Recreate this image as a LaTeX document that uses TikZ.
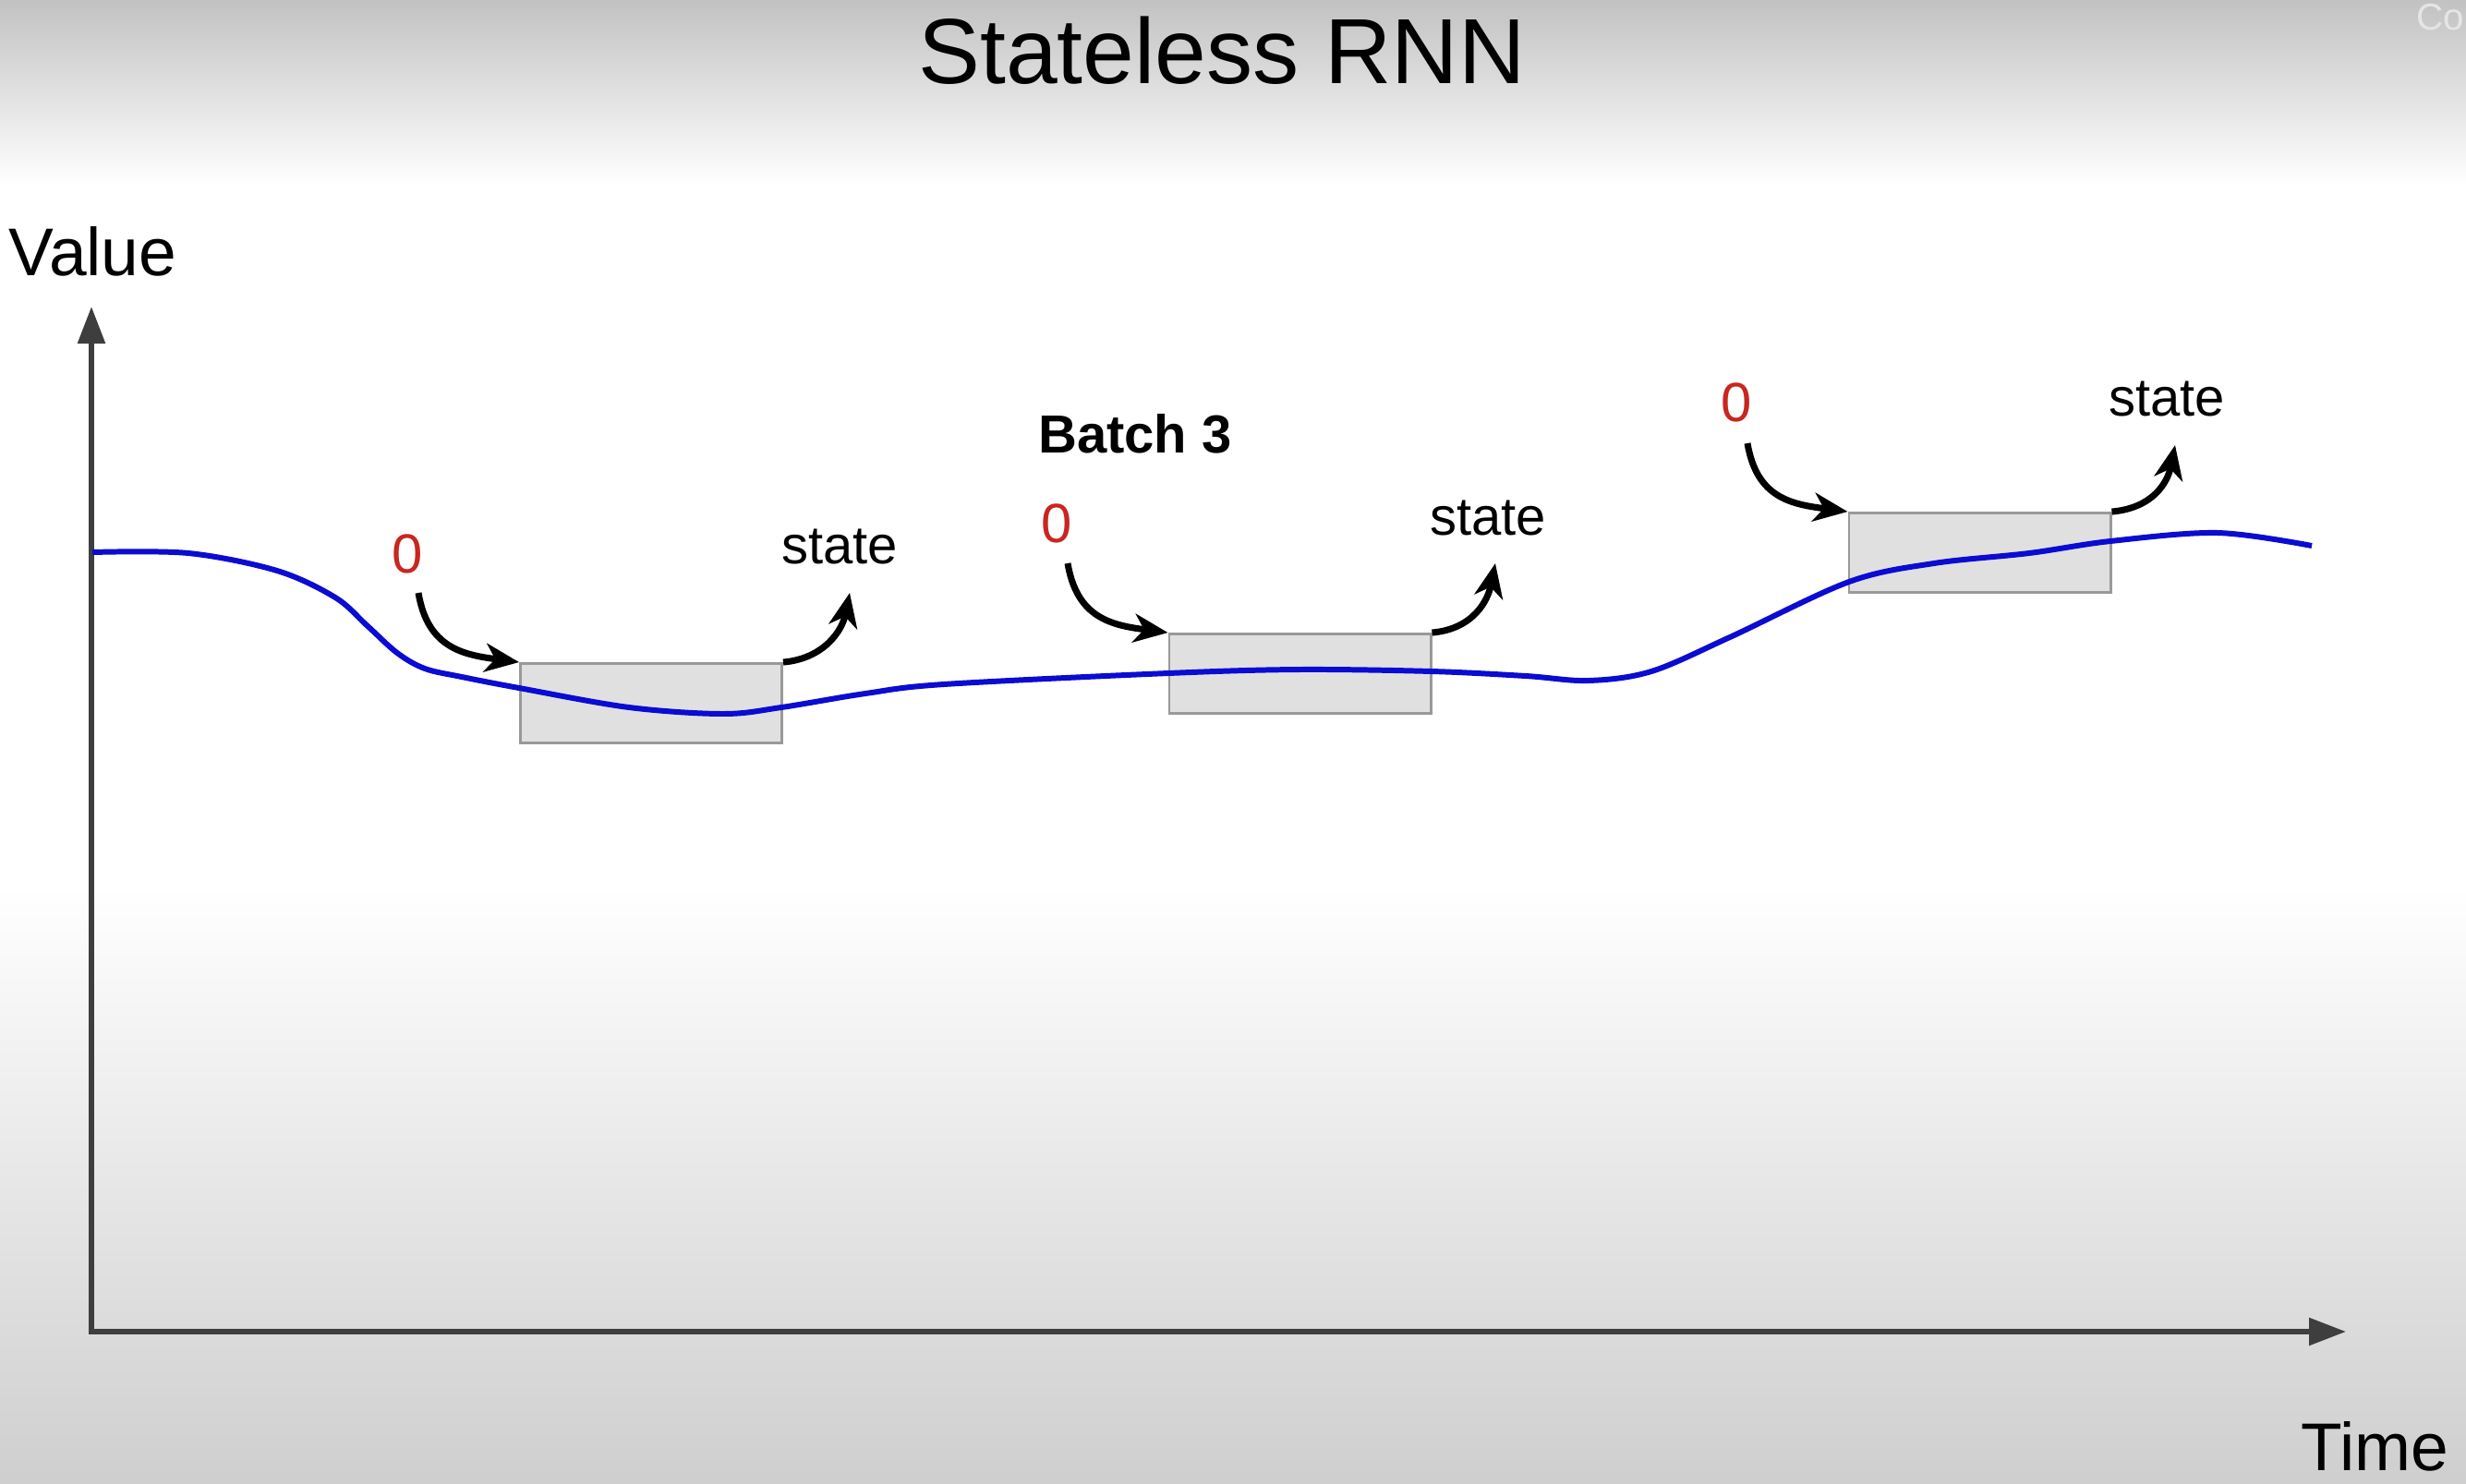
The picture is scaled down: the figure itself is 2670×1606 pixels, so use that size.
\documentclass[tikz,border=0pt]{standalone}
\usepackage{fontspec}
\setmainfont{Liberation Sans}
\usetikzlibrary{arrows.meta}
\definecolor{curveblue}{HTML}{0B0BD2}
\definecolor{zerored}{HTML}{C8261F}
\definecolor{axisgray}{HTML}{3E3E3E}

\begin{document}
\begin{tikzpicture}[x=0.01cm,y=-0.01cm,
  batch/.style={draw=black!40,fill=black!12,line width=0.8pt,minimum width=2.83cm,minimum height=0.86cm,inner sep=0pt},
  zero/.style={text=zerored,font=\fontsize{17}{20}\selectfont,anchor=base},
  statelbl/.style={font=\fontsize{16.5}{20}\selectfont,anchor=base},
  flow/.style={line width=2pt,-{Stealth[length=0.37cm,width=0.31cm,inset=0.11cm]}},
  axis/.style={draw=axisgray,line width=1.6pt,{Triangle[length=0.4cm,width=0.29cm]}-{Triangle[length=0.4cm,width=0.29cm]}},
  curve/.style={draw=curveblue,line width=1.7pt}]
  \useasboundingbox (0,0) rectangle (2670,1606);
  \fill[white] (0,0) rectangle (2670,1606);
  \shade[top color=black!24,bottom color=white] (0,0) rectangle (2670,200);
  \shade[top color=white,bottom color=black!19] (0,960) rectangle (2670,1606);

  \node[anchor=base west,inner sep=0pt,text=white!90!black,font=\fontsize{11.5}{14}\selectfont] (co) at (2616,32) {Co};
  \node[anchor=base,inner sep=0pt,font=\fontsize{28.5}{34}\selectfont] (title) at (1323,90) {Stateless RNN};
  \node[anchor=base west,inner sep=0pt,font=\fontsize{20.8}{25}\selectfont] (value) at (9,298) {Value};
  \node[anchor=base west,inner sep=0pt,font=\fontsize{20.8}{25}\selectfont] (time) at (2491,1592) {Time};

  \coordinate (origin) at (99,1442);
  \coordinate (ytip) at (99,332);
  \coordinate (xtip) at (2540,1442);
  \draw[axis] (ytip) -- (origin) -- (xtip);

  \node[batch] (b1) at (705,761.5) {};
  \node[batch] (b2) at (1407.5,729.5) {};
  \node[batch] (b3) at (2143.5,598.5) {};

  \draw[curve] plot[smooth,tension=0.55] coordinates {(100,598) (204,599) (300,618) (363,647)
    (397,677) (430,707) (460,724) (500,733) (562,745) (681,766) (783,773) (846,766) (937,751)
    (1022,741) (1265,729) (1407,725) (1550,727) (1652,732) (1720,737) (1788,727) (1873,690)
    (2002,630) (2094,610) (2197,599) (2285,586) (2401,577) (2503,591)};

  \node[zero] (z1) at (441,620) {0};
  \node[zero] (z2) at (1144,587) {0};
  \node[zero] (z3) at (1880,456) {0};
  \node[statelbl] (s1) at (909,610) {state};
  \node[statelbl] (s2) at (1611,579) {state};
  \node[statelbl] (s3) at (2346,450) {state};
  \node[anchor=base,font=\bfseries\fontsize{16.5}{20}\selectfont] (batch3) at (1229,490) {Batch 3};

  \draw[flow] ([xshift=0.12cm,yshift=-0.22cm]z1.base) .. controls +(10,60) and +(-60,-8) .. (b1.north west);
  \draw[flow] ([xshift=0.12cm,yshift=-0.23cm]z2.base) .. controls +(10,60) and +(-60,-8) .. (b2.north west);
  \draw[flow] ([xshift=0.12cm,yshift=-0.24cm]z3.base) .. controls +(10,60) and +(-60,-8) .. (b3.north west);
  \draw[flow] (b1.north east) .. controls +(45,-4) and +(-8,40) .. ([xshift=0.11cm,yshift=-0.32cm]s1.base);
  \draw[flow] (b2.north east) .. controls +(45,-4) and +(-8,40) .. ([xshift=0.08cm,yshift=-0.31cm]s2.base);
  \draw[flow] (b3.north east) .. controls +(45,-4) and +(-8,40) .. ([xshift=0.09cm,yshift=-0.32cm]s3.base);
\end{tikzpicture}
\end{document}
